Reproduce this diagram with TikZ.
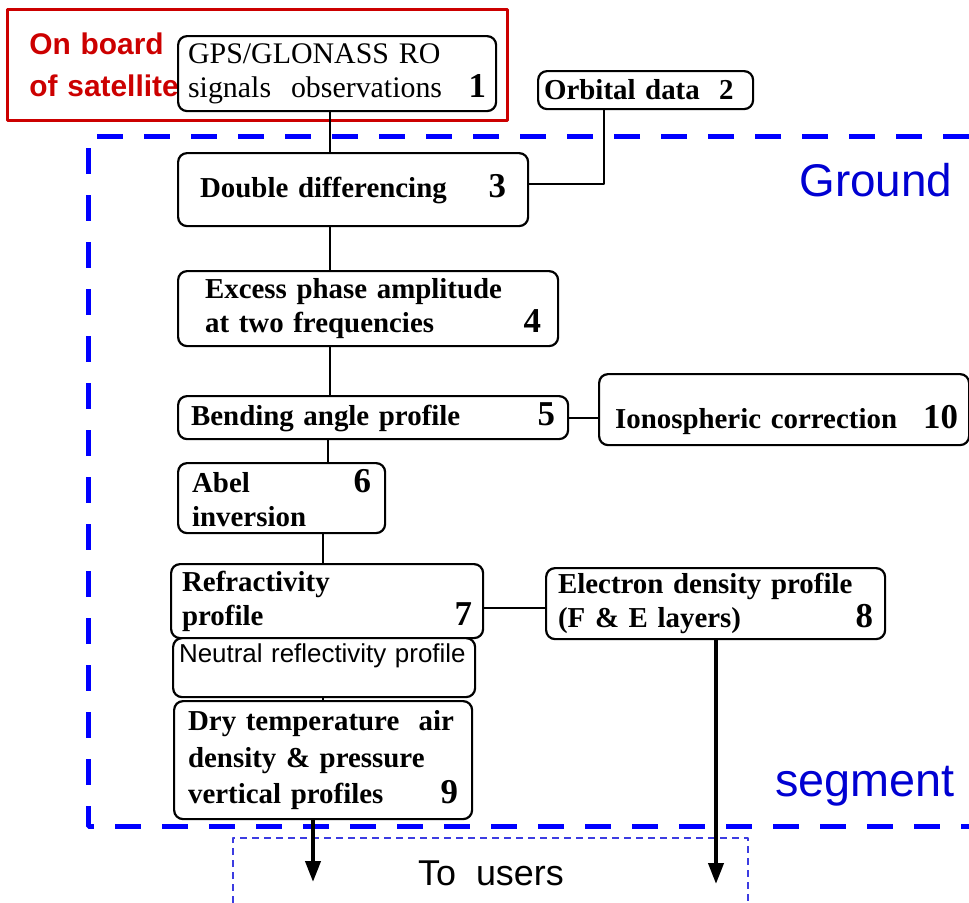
\documentclass[tikz,border=0pt]{standalone}
\usepackage{fontspec}
\setmainfont{Liberation Serif}
\setsansfont{Liberation Sans}
\usetikzlibrary{arrows.meta}

\definecolor{boardred}{RGB}{204,0,0}
\definecolor{groundblue}{RGB}{0,0,255}
\definecolor{labelblue}{RGB}{0,0,210}
\definecolor{userblue}{RGB}{60,60,225}

\newcommand{\boxnum}[1]{{\fontsize{35}{35}\selectfont #1}}

\tikzset{
  stage/.style={draw, fill=white, line width=2.2bp, rounded corners=9bp,
    anchor=north west, align=left, inner ysep=2bp,
    font=\fontsize{29}{34}\selectfont\bfseries},
  bline/.style={line width=2.2bp},
  tousers/.style={line width=4bp, ->},
}

\begin{document}
\begin{tikzpicture}[x=1bp,y=-1bp,>={Triangle[width=15bp,length=21bp]},line join=bevel]

\useasboundingbox (0,0) rectangle (969,903);

% Node: onboard
\node[draw=boardred, line width=2.5bp, anchor=north west, minimum width=500bp,
  minimum height=111bp, text width=456bp, inner xsep=22bp, align=left,
  text=boardred, font=\sffamily\bfseries\fontsize{30}{43}\selectfont]
  (onboard) at (6,8) {On board\\of satellite};

% Ground segment frame
\draw[groundblue, line width=5bp, dash pattern=on 26bp off 21bp]
  (969,136) -- (88,136) -- (88,826) -- (969,826);
\node[text=labelblue, font=\sffamily\fontsize{46}{46}\selectfont] (ground) at (876,180) {Ground};
\node[text=labelblue, font=\sffamily\fontsize{47}{47}\selectfont] (segment) at (865,786) {segment};

% Users frame
\draw[userblue, line width=1.3bp, dash pattern=on 7bp off 5bp]
  (233,903) -- (233,838) -- (748,838) -- (748,903);
\node[font=\sffamily\fontsize{36}{36}\selectfont] (users) at (491,873) {To\ \ users};

% Node: gps
\node[stage, font=\fontsize{30}{34}\selectfont, inner xsep=10bp, text width=298bp, minimum height=75bp]
  (gps) at (177,35) {GPS/GLONASS RO\\signals\ \ observations\hfill\textbf{\boxnum{1}}};

% Node: orb
\node[stage, inner xsep=6bp, text width=203bp, minimum height=38bp]
  (orb) at (537,70) {Orbital data\ \ 2};

% Node: dd
\node[stage, inner xsep=22bp, text width=306bp, minimum height=73bp]
  (dd) at (177,152) {Double differencing\hfill\boxnum{3}};

% Node: exc
\node[stage, inner xsep=17bp, text width=346bp, minimum height=75bp]
  (exc) at (177,270) {\hspace*{10bp}Excess phase amplitude\\\hspace*{10bp}at two frequencies\hfill\boxnum{4}};

% Node: bend
\node[stage, inner xsep=13bp, text width=364bp, minimum height=43bp]
  (bend) at (177,395) {Bending angle profile\hfill\boxnum{5}};

% Node: iono
\node[stage, inner xsep=11bp, text width=348bp, minimum height=71bp]
  (iono) at (598,373) {\rule{0pt}{44bp}\hspace*{5bp}Ionospheric correction\hfill\boxnum{10}};

% Node: abel
\node[stage, inner xsep=14bp, text width=179bp, minimum height=70bp]
  (abel) at (177,462) {Abel\hfill\boxnum{6}\\inversion};

% Node: refr
\node[stage, inner xsep=11bp, text width=290bp, minimum height=74bp]
  (refr) at (170,563) {Refractivity\\profile\hfill\boxnum{7}};

% Node: elec
\node[stage, inner xsep=12bp, text width=315bp, minimum height=71bp]
  (elec) at (545,567) {Electron density profile\\(F \& E layers)\hfill\boxnum{8}};

% Node: neut
\node[stage, font=\sffamily\fontsize{26}{30}\selectfont, inner xsep=6bp, text width=290bp, minimum height=59bp]
  (neut) at (172,637) {Neutral reflectivity profile\\\mbox{}};

% Node: dry
\node[stage, font=\fontsize{29}{37}\selectfont\bfseries, inner xsep=14bp, text width=270bp, minimum height=118bp]
  (dry) at (173,700) {Dry temperature\ \ air\\density \& pressure\\vertical profiles\hfill\boxnum{9}};

\coordinate (spine) at (330,0);
\coordinate (spinelow) at (323,0);
\coordinate (orbdrop) at (604,0);
\coordinate (outdry) at (313,882);
\coordinate (outelec) at (716,884);

% Edge: gps -> dd
\draw[bline] (gps.south -| spine) -- (dd.north -| spine);
% Edge: orb -> dd
\draw[bline] (orb.south -| orbdrop) |- ([yshift=6bp]dd.east);
% Edge: dd -> exc
\draw[bline] (dd.south -| spine) -- (exc.north -| spine);
% Edge: exc -> bend
\draw[bline] (exc.south -| spine) -- (bend.north -| spine);
% Edge: bend -> iono
\draw[bline] (bend.east) -- (bend.east -| iono.west);
% Edge: bend -> abel
\draw[bline] ([xshift=-2bp]bend.south -| spine) -- ([xshift=-2bp]abel.north -| spine);
% Edge: abel -> refr
\draw[bline] (abel.south -| spinelow) -- (refr.north -| spinelow);
% Edge: refr -> elec
\draw[bline] ([yshift=-7bp]refr.east) -- ([yshift=-7bp]refr.east -| elec.west);
% Edge: neut -> dry
\draw[bline] (neut.south -| spinelow) -- (dry.north -| spinelow);
% Edge: dry -> users
\draw[tousers] (dry.south -| outdry) -- (outdry);
% Edge: elec -> users
\draw[tousers] (elec.south -| outelec) -- (outelec);

\end{tikzpicture}
\end{document}
